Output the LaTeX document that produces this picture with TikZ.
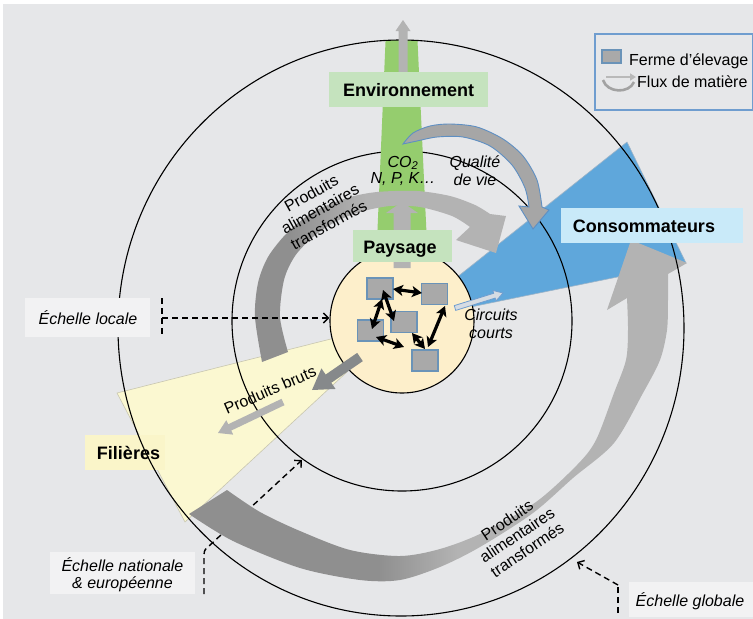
\documentclass[tikz,border=0pt]{standalone}
\usepackage{fontspec}
\setmainfont{Liberation Sans}
\usetikzlibrary{arrows.meta,calc}

\definecolor{bg}{HTML}{E6E7E9}
\definecolor{labbox}{HTML}{F2F2F3}
\definecolor{envgreen}{HTML}{95CD6E}
\definecolor{envbox}{HTML}{C5E3BE}
\definecolor{conblue}{HTML}{5FA7DB}
\definecolor{conbox}{HTML}{C9EAF9}
\definecolor{filyel}{HTML}{FBF8D1}
\definecolor{filbox}{HTML}{FAF5C9}
\definecolor{coreyel}{HTML}{FDEFCB}
\definecolor{bandDark}{HTML}{8F8F8F}
\definecolor{bandLight}{HTML}{B3B3B3}
\definecolor{arrDark}{HTML}{86898B}
\definecolor{farmgrey}{HTML}{A9A9A9}
\definecolor{farmedge}{HTML}{6A93B8}
\definecolor{legedge}{HTML}{6F9DCF}
\definecolor{curlyedge}{HTML}{5E8FC3}
\definecolor{curlyfill}{HTML}{A6A6A6}
\definecolor{ccfill}{HTML}{D6DCE3}
\definecolor{yeledge}{HTML}{C8C6B0}
\definecolor{blueedge}{HTML}{9DB4C8}
\definecolor{legline}{HTML}{B9B9B9}
\definecolor{legarc}{HTML}{A2A2A2}

\pgfdeclarehorizontalshading{outerbandshade}{100bp}{color(0bp)=(bandDark); color(44bp)=(bandDark); color(52bp)=(bandLight); color(100bp)=(bandLight)}
\pgfdeclarehorizontalshading{innerbandshade}{100bp}{color(0bp)=(bandDark); color(32bp)=(bandDark); color(47bp)=(bandLight); color(100bp)=(bandLight)}

% #1 start, #2 tip, #3 shaft half width, #4 head half width, #5 head length, #6 style
\newcommand\myblockarrow[6]{%
  \coordinate (bahead) at ($(#2)!#5!(#1)$);
  \path[#6] ($(#1)!#3!90:(#2)$) -- ($(bahead)!#3!90:(#2)$) -- ($(bahead)!#4!90:(#2)$) -- (#2)
    -- ($(bahead)!#4!-90:(#2)$) -- ($(bahead)!#3!-90:(#2)$) -- ($(#1)!#3!-90:(#2)$) -- cycle;}

\tikzset{
  ring/.style={draw=black, line width=1.1pt},
  scaledash/.style={draw=black, line width=1.4pt, dash pattern=on 6pt off 4pt},
  scaletip/.style={-{Straight Barb[length=5pt,width=10pt]}},
  farm/.style={draw=farmedge, fill=farmgrey, line width=1.2pt, minimum width=26pt, minimum height=21pt, inner sep=0},
  farmlink/.style={line width=3.2pt, {Stealth[length=10pt,width=11pt,inset=2.5pt]}-{Stealth[length=10pt,width=11pt,inset=2.5pt]}},
  plainbox/.style={inner sep=0, draw=none},
  bigtxt/.style={font=\fontsize{18}{21}\selectfont\bfseries, inner sep=0},
  itxt/.style={font=\fontsize{16}{18}\selectfont\itshape, inner sep=0},
  rtxt/.style={font=\fontsize{16}{18}\selectfont, inner sep=0},
}

\begin{document}
\begin{tikzpicture}[x=1pt,y=-1pt]
\useasboundingbox (0,0) rectangle (753,619);
\fill[white] (0,0) rectangle (753,619);
\fill[bg] (3,4) rectangle (753,619);

\coordinate (ctr) at (402,321);

% national scale connector (under the band)
\coordinate (natA) at (204,594);
\coordinate (natB) at (204,555);
\coordinate (natC) at (302,460);
\draw[scaledash, scaletip] (natA) -- (natB) .. controls (204,550) and (206,548) .. (209,546) -- (natC);

% wedges
\filldraw[fill=filyel, draw=yeledge, line width=0.6pt] (ctr) -- (117,393) -- (185,522) -- cycle;
\node[plainbox, fill=filbox, minimum width=80pt, minimum height=35pt] (filbox) at (125,452.5) {};
\filldraw[fill=conblue, draw=blueedge, line width=0.6pt] (ctr) -- (627,142) -- (686,263) -- cycle;

% middle ring
\draw[ring] (ctr) circle[radius=170pt];

% green strip
\begin{scope}
  \clip (401,328) ellipse[x radius=283pt, y radius=288pt];
  \fill[envgreen] (386,30) -- (417,30) -- (428,265) -- (376,265) -- cycle;
\end{scope}

% outer band
\shade[shading=outerbandshade]
  plot[smooth] coordinates {(189,514) (233,541) (300,568) (360,580) (400,580) (440,567) (480,547) (533,513) (573,478) (614,443) (643,393) (660,360) (667,330) (668,300) (668,274)}
  -- (687,263) -- (631,240) -- (607,310)
  -- plot[smooth] coordinates {(627,298) (628,330) (626,360) (614,393) (596,440) (577,465) (536,502) (482,533) (440,549) (400,556) (350,550) (300,531) (260,512) (227,490)}
  -- cycle;

% outer ring
\draw[ring] (401,328) ellipse[x radius=283pt, y radius=288pt];

% core
\node[circle, draw=black, line width=1.1pt, fill=coreyel, minimum size=144pt, inner sep=0] (core) at (ctr) {};

% inner band
\shade[shading=innerbandshade]
  plot[smooth] coordinates {(262,362) (255,317) (258,283) (268,257) (287,233) (313,212) (347,198) (377,192) (417,191) (450,196) (475,205) (490,214)}
  -- (506,216) -- (496,253) -- (456,240)
  -- plot[smooth] coordinates {(470,227) (452,216) (420,207) (390,206) (360,212) (335,222) (313,237) (295,256) (284,280) (280,317) (288,352)}
  -- cycle;

% vertical arrows
\coordinate (payS) at (402,268);
\coordinate (payT) at (402,202);
\myblockarrow{payS}{payT}{8.5pt}{16pt}{11pt}{fill=bandLight}
\coordinate (envS) at (403,73);
\coordinate (envT) at (403,20);
\myblockarrow{envS}{envT}{4.5pt}{7.5pt}{11pt}{fill=bandLight}

% quality of life curly arrow
\filldraw[fill=curlyfill, draw=curlyedge, line width=0.9pt]
  plot[smooth] coordinates {(403,144) (413,133) (430,126) (450,124) (477,127) (503,139) (523,156) (537,180) (542,207)}
  -- (549,210) -- (533,229) -- (519,206)
  -- plot[smooth] coordinates {(529,207) (525,188) (512,165) (490,146) (463,137) (437,137) (417,141) (403,144)}
  -- cycle;

% boxes
\node[plainbox, fill=envbox, minimum width=159pt, minimum height=35pt] (envbox) at (408.5,89.5) {};
\node[plainbox, fill=envbox, minimum width=99pt, minimum height=32pt] (paybox) at (402.5,246) {};
\node[plainbox, fill=conbox, minimum width=182pt, minimum height=35pt] (conbox) at (652,225.5) {};
\node[plainbox, fill=labbox, minimum width=125pt, minimum height=39pt] (locbox) at (87.5,317.5) {};
\node[plainbox, fill=labbox, minimum width=145pt, minimum height=42pt] (natbox) at (122.5,573) {};
\node[plainbox, fill=labbox, minimum width=124pt, minimum height=35pt] (globox) at (691,599.5) {};

% legend
\node[draw=legedge, line width=1.5pt, fill=bg, minimum width=158pt, minimum height=76pt, inner sep=0] (legend) at (674,72) {};
\node[farm, minimum width=19pt, minimum height=13pt] (legfarm) at (611.5,56.5) {};
\coordinate (legA) at (606,77);
\coordinate (legB) at (636,77);
\coordinate (legC) at (603,80);
\coordinate (legD) at (634,82);
\draw[line width=2.4pt, draw=legline, -{Triangle[length=6pt,width=7pt]}] (legA) -- (legB);
\draw[line width=2.6pt, draw=legarc] (legC) .. controls (607,93) and (629,94) .. (legD);

% small block arrows
\coordinate (brS) at (360,357);
\coordinate (brT) at (312,390);
\myblockarrow{brS}{brT}{5pt}{12.5pt}{20pt}{fill=arrDark}
\coordinate (br2S) at (283,402);
\coordinate (br2T) at (218,433);
\myblockarrow{br2S}{br2T}{3.5pt}{8pt}{13pt}{fill=bandLight}
\coordinate (ccS) at (455,308);
\coordinate (ccT) at (503,293);
\myblockarrow{ccS}{ccT}{2.5pt}{5.5pt}{9pt}{fill=ccfill, draw=legedge, line width=0.8pt}

% farms
\node[farm] (f1) at (380,288.5) {};
\node[farm] (f2) at (434.5,294) {};
\node[farm] (f3) at (404,322) {};
\node[farm] (f4) at (370.5,330.5) {};
\node[farm] (f5) at (425,360.5) {};
\draw[farmlink] ($(f1)+(13,0.5)$) -- ($(f2)+(-12.5,-1)$);
\draw[farmlink] ($(f1)+(3,1.5)$) -- ($(f3)+(-10,-1)$);
\draw[farmlink] ($(f1)+(2,10.5)$) -- ($(f4)+(1.5,-1.5)$);
\draw[farmlink] ($(f4)+(5.5,6.5)$) -- ($(f5)+(-21,-13.5)$);
\draw[farmlink] ($(f3)+(8,11)$) -- ($(f5)+(0,-11.5)$);
\draw[farmlink] ($(f2)+(10.5,12)$) -- ($(f5)+(3,-13.5)$);

% local and global connectors
\coordinate (locT) at (162,298);
\coordinate (locB) at (162,337);
\coordinate (locM) at (162,318);
\draw[scaledash] (locT) -- (locB);
\draw[scaledash, scaletip] (locM) -- (core.west |- locM);
\coordinate (gloT) at (618,585);
\coordinate (gloB) at (618,613);
\coordinate (gloE) at (577,562);
\draw[scaledash] (gloB) -- (gloT);
\draw[scaledash, scaletip] (gloT) -- (gloE);

% texts
\node[bigtxt, anchor=base] (tenv) at (408.7,96.5) {Environnement};
\node[bigtxt, anchor=base] (tpay) at (400,253) {Paysage};
\node[bigtxt, anchor=base] (tcon) at (644,232) {Consommateurs};
\node[bigtxt, anchor=base] (tfil) at (128.5,459) {Filières};
\node[itxt, anchor=base] (tloc) at (88,324) {Échelle locale};
\node[itxt, anchor=base] (tnat1) at (122.5,571) {Échelle nationale};
\node[itxt, anchor=base] (tnat2) at (122.5,588) {\& européenne};
\node[itxt, anchor=base] (tglo) at (690,606) {Échelle globale};
\node[itxt, anchor=base] (tco) at (403,167) {CO\textsubscript{2}};
\node[itxt, anchor=base] (tnpk) at (403,183) {N, P, K…};
\node[itxt, anchor=base] (tqual1) at (475,167) {Qualité};
\node[itxt, anchor=base] (tqual2) at (475,185) {de vie};
\node[itxt, anchor=base] (tcc1) at (491,320) {Circuits};
\node[itxt, anchor=base] (tcc2) at (491,338) {courts};
\node[rtxt, rotate=23.5] (tbruts) at (270,390) {Produits bruts};
\node[rtxt, rotate=29, align=center] (tpat1) at (320,209) {Produits\\alimentaires\\transformés};
\node[rtxt, rotate=34, align=center] (tpat2) at (517,535) {Produits\\alimentaires\\transformés};
\node[rtxt, anchor=base west] (tlegf) at (629,65) {Ferme d’élevage};
\node[rtxt, anchor=base west] (tlegm) at (637,87) {Flux de matière};
\end{tikzpicture}
\end{document}
